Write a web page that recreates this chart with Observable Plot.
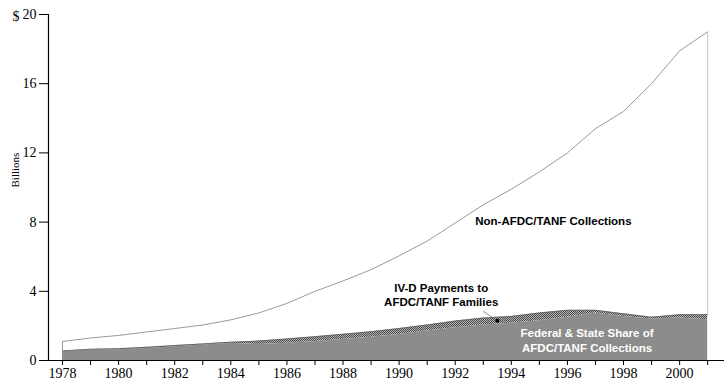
<!DOCTYPE html>
<html>
<head>
<meta charset="utf-8">
<script src="https://cdn.jsdelivr.net/npm/d3@7"></script>
<script src="https://cdn.jsdelivr.net/npm/@observablehq/plot@0.6"></script>
<style>
  html, body { margin: 0; padding: 0; background: #fff; }
</style>
</head>
<body>
<div id="chart"></div>
<script>
// ---- Data (billions of dollars) ----
const years = [1978, 1979, 1980, 1981, 1982, 1983, 1984, 1985, 1986, 1987, 1988, 1989,
               1990, 1991, 1992, 1993, 1994, 1995, 1996, 1997, 1998, 1999, 2000, 2001];
const federalStateShare = [0.50, 0.60, 0.62, 0.70, 0.80, 0.90, 1.00, 0.92, 1.00, 1.10, 1.22, 1.35,
                           1.50, 1.70, 1.90, 2.05, 2.15, 2.30, 2.50, 2.75, 2.55, 2.40, 2.45, 2.35];
const ivdPaymentsToFamilies = [0.05, 0.05, 0.06, 0.06, 0.06, 0.06, 0.06, 0.20, 0.25, 0.28, 0.30, 0.31,
                               0.35, 0.35, 0.38, 0.40, 0.40, 0.45, 0.40, 0.15, 0.15, 0.10, 0.20, 0.30];
const nonAfdcCollections = [0.55, 0.65, 0.77, 0.89, 0.99, 1.09, 1.29, 1.63, 2.05, 2.62, 3.08, 3.59,
                            4.20, 4.85, 5.67, 6.55, 7.35, 8.15, 9.10, 10.50, 11.70, 13.50, 15.25, 16.35];

const yTicks = [0, 4, 8, 12, 16, 20];
const xTickLabelYears = [1978, 1980, 1982, 1984, 1986, 1988, 1990, 1992, 1994, 1996, 1998, 2000];
const xDomain = [1977.5, 2001.6];

// annotation labels (anchored in data space)
const labelNon = [{x: 1995.5, y: 8.05, text: "Non-AFDC/TANF Collections"}];
const labelIVD = [
  {x: 1991.5, y: 4.15, text: "IV-D Payments to"},
  {x: 1991.5, y: 3.35, text: "AFDC/TANF Families"}
];
const labelFed = [
  {x: 1996.7, y: 1.55, text: "Federal & State Share of"},
  {x: 1996.7, y: 0.68, text: "AFDC/TANF Collections"}
];
const leader = [{x1: 1993.0, y1: 2.85, x2: 1993.5}];

// ---- Build rows ----
const rows = years.map((year, i) => {
  const share = federalStateShare[i];
  const afdc = share + ivdPaymentsToFamilies[i];
  const total = afdc + nonAfdcCollections[i];
  return {year, share, afdc, total};
});
const leaderRows = leader.map(d => {
  const i = years.indexOf(Math.floor(d.x2));
  const a = rows[i], b = rows[i + 1];
  const t = d.x2 - a.year;
  const yMid = (a.share + (b.share - a.share) * t + a.afdc + (b.afdc - a.afdc) * t) / 2;
  return {x1: d.x1, y1: d.y1, x2: d.x2, y2: yMid};
});

const chart = Plot.plot({
  width: 728,
  height: 390,
  marginLeft: 48,
  marginRight: 4,
  marginTop: 14,
  marginBottom: 30,
  style: {fontFamily: "'Liberation Serif', 'Times New Roman', serif", fontSize: "14px", background: "#fff", color: "#000"},
  x: {domain: xDomain},
  y: {domain: [0, 20]},
  marks: [
    Plot.areaY(rows, {x: "year", y1: 0, y2: "share", fill: "#8c8c8c"}),
    Plot.areaY(rows, {x: "year", y1: "share", y2: "afdc", fill: "url(#hatchPattern)"}),
    Plot.lineY(rows, {x: "year", y: "afdc", stroke: "#555", strokeWidth: 0.6}),
    Plot.lineY(rows, {x: "year", y: "total", stroke: "#9a9a9a", strokeWidth: 1}),
    Plot.ruleX([rows[0]], {x: "year", y1: "afdc", y2: "total", stroke: "#9a9a9a", strokeWidth: 1}),
    Plot.ruleX([rows[rows.length - 1]], {x: "year", y1: "afdc", y2: "total", stroke: "#d0d0d0", strokeWidth: 1.2}),
    Plot.ruleY([0], {stroke: "#000", strokeWidth: 1.2}),
    Plot.ruleX([xDomain[0]], {y1: 0, y2: 20, stroke: "#000", strokeWidth: 1.2}),
    Plot.axisY({ticks: yTicks, tickSize: 9, tickPadding: 3, label: null, fontSize: 14}),
    Plot.axisX({ticks: years, tickSize: 5, tickPadding: 3, label: null, fontSize: 14,
                tickFormat: d => xTickLabelYears.includes(d) ? String(d) : ""}),
    Plot.text(["$"], {frameAnchor: "top-left", dx: -36, dy: -3, fontSize: 14}),
    Plot.text(["Billions"], {frameAnchor: "left", dx: -33, rotate: -90, fontSize: 11}),
    Plot.text(labelNon, {x: "x", y: "y", text: "text", fontFamily: "'Liberation Sans', Arial, sans-serif", fontWeight: "bold", fontSize: 11.5, fill: "#000"}),
    Plot.text(labelIVD, {x: "x", y: "y", text: "text", fontFamily: "'Liberation Sans', Arial, sans-serif", fontWeight: "bold", fontSize: 11.5, fill: "#000"}),
    Plot.text(labelFed, {x: "x", y: "y", text: "text", fontFamily: "'Liberation Sans', Arial, sans-serif", fontWeight: "bold", fontSize: 11.5, fill: "#fff"}),
    Plot.link(leaderRows, {x1: "x1", y1: "y1", x2: "x2", y2: "y2", stroke: "#666", strokeWidth: 0.8}),
    Plot.dot(leaderRows, {x: "x2", y: "y2", r: 2, fill: "#000"})
  ]
});

// hatch pattern definition
const svgNS = "http://www.w3.org/2000/svg";
const defs = document.createElementNS(svgNS, "defs");
defs.innerHTML = `
  <pattern id="hatchPattern" patternUnits="userSpaceOnUse" width="2" height="2">
    <rect width="2" height="2" fill="#b4b4b4"/>
    <rect x="0" y="0" width="1" height="1" fill="#4a4a4a"/>
    <rect x="1" y="1" width="1" height="1" fill="#4a4a4a"/>
  </pattern>`;
chart.insertBefore(defs, chart.firstChild);

document.getElementById("chart").appendChild(chart);
</script>
</body>
</html>
